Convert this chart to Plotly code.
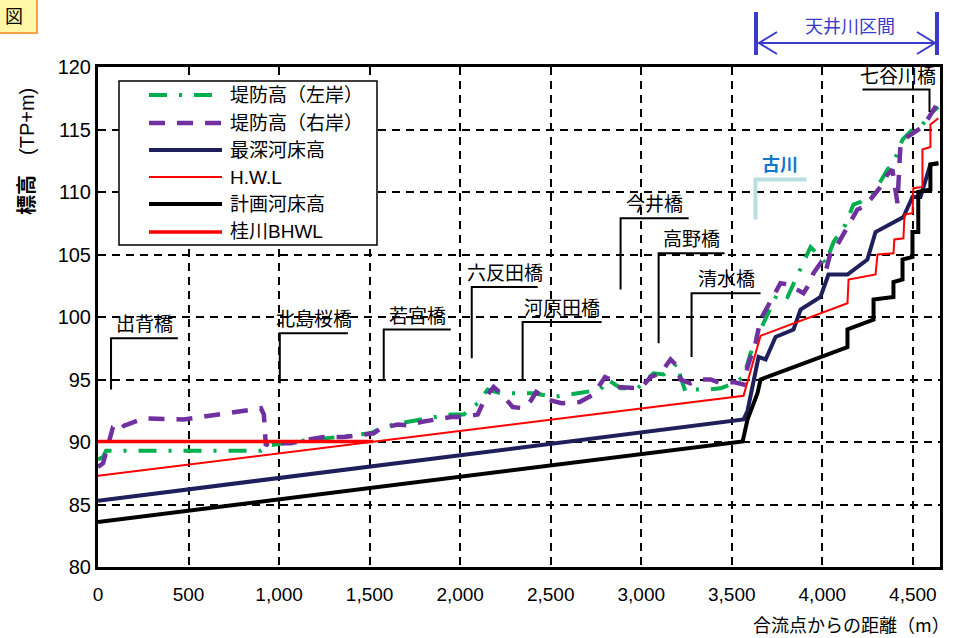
import plotly.graph_objects as go

# ---------------- data ----------------
left_x = [0, 28, 45, 900, 938, 1065, 1325, 1507, 1562, 1634, 1783, 1948, 2020, 2097, 2152,
          2224, 2406, 2517, 2649, 2776, 2815, 2886, 2980, 3068, 3124, 3201, 3217, 3245, 3289, 3366,
          3438, 3510, 3565, 3604, 3675, 3753, 3808, 3935, 3979, 4018, 4062, 4128, 4172, 4211, 4283,
          4360, 4393, 4443, 4498, 4542, 4608, 4640]
left_y = [88.6, 88.8, 89.3, 89.3, 89.7, 90.0, 90.4, 90.7, 91.1, 91.4, 91.8, 92.2, 92.2, 93.1, 94.2,
          93.9, 93.9, 93.6, 93.9, 94.2, 95.0, 94.3, 94.3, 95.5, 95.4, 96.3, 95.2, 94.0, 94.2, 94.2,
          94.3, 94.7, 95.2, 97.1, 99.5, 101.9, 101.6, 105.6, 105.0, 104.3, 106.0, 107.4, 109.0, 109.2, 109.9,
          111.8, 112.3, 114.2, 115.0, 115.2, 116.4, 116.8]

right_x = [0, 28, 83, 127, 143, 254, 475, 568, 662, 751, 817, 900, 916, 927, 938,
           1065, 1159, 1247, 1358, 1468, 1523, 1562, 1656, 1727, 1783, 1948, 2020, 2097, 2141, 2185,
           2224, 2290, 2350, 2390, 2420, 2480, 2560, 2660, 2737, 2800, 2831, 2870, 2997, 3052, 3107,
           3162, 3190, 3206, 3217, 3272, 3328, 3383, 3438, 3510, 3565, 3587, 3631, 3659, 3698, 3725,
           3769, 3813, 3863, 3896, 3935, 3951, 3990, 4018, 4045, 4084, 4139, 4194, 4227, 4266, 4321,
           4360, 4387, 4404, 4415, 4432, 4470, 4542, 4586, 4641]
right_y = [88.0, 88.3, 91.2, 91.6, 91.3, 91.9, 91.8, 92.0, 92.2, 92.4, 92.6, 92.7, 92.2, 89.7, 89.9,
           89.9, 90.2, 90.4, 90.4, 90.6, 90.7, 91.1, 91.4, 91.3, 91.6, 92.0, 92.0, 92.2, 93.6, 94.4,
           93.9, 92.8, 92.7, 93.3, 94.0, 93.4, 93.1, 93.2, 93.8, 95.2, 95.0, 94.4, 94.3, 95.2, 95.5,
           96.6, 96.2, 95.6, 95.0, 94.7, 95.0, 95.0, 94.7, 94.8, 94.6, 96.0, 97.9, 99.8, 100.8, 101.6,
           102.7, 102.6, 102.2, 101.9, 102.8, 103.5, 104.3, 103.6, 105.1, 105.8, 107.2, 108.6, 108.8, 109.4, 110.4,
           111.4, 111.8, 109.9, 109.1, 113.9, 114.4, 115.1, 115.9, 117.2]

deep_x = [0, 3565, 3587, 3648, 3687, 3742, 3841, 3880, 3990, 4034, 4139, 4249, 4294, 4448, 4498,
          4542, 4597, 4641]
deep_y = [85.3, 91.8, 92.5, 96.8, 96.6, 98.4, 99.0, 100.6, 101.6, 103.4, 103.4, 104.6, 106.8, 108.0, 109.6,
          109.6, 112.2, 112.3]

hwl_x = [0, 3565, 3659, 4139, 4145, 4294, 4305, 4393, 4398, 4448, 4454, 4498, 4503, 4553, 4553,
         4597, 4597, 4641]
hwl_y = [87.3, 93.7, 98.5, 101.1, 103.0, 103.4, 105.0, 105.1, 106.2, 106.3, 108.2, 108.3, 110.3, 110.4, 113.4,
         113.6, 115.4, 115.9]

plan_x = [0, 3560, 3587, 3642, 3659, 4139, 4139, 4283, 4283, 4393, 4393, 4443, 4443, 4498, 4498,
          4530, 4530, 4597, 4597, 4641]
plan_y = [83.6, 90.05, 91.8, 93.9, 95.0, 97.6, 99.0, 99.8, 101.4, 101.6, 102.8, 103.0, 104.6, 104.8, 106.8,
          106.8, 110.0, 110.2, 112.2, 112.3]

bhwl_x = [0, 1520]
bhwl_y = [90.05, 90.05]

series_names = ["堤防高（左岸）", "堤防高（右岸）", "最深河床高", "H.W.L", "計画河床高", "桂川BHWL"]

bridge_names = ["出背橋", "北島桜橋", "若宮橋", "六反田橋", "河原田橋", "今井橋", "高野橋", "清水橋"]
bridge_x0 = [72, 1004, 1578, 2064, 2345, 2886, 3096, 3278]
bridge_x1 = [441, 1380, 1948, 2428, 2781, 3262, 3460, 3659]
bridge_ylo = [94.2, 94.7, 95.0, 96.7, 95.0, 102.2, 97.9, 96.8]
bridge_yhi = [98.3, 98.7, 99.0, 102.4, 99.6, 107.9, 105.1, 101.9]

x_ticks = [0, 500, 1000, 1500, 2000, 2500, 3000, 3500, 4000, 4500]
y_ticks = [80, 85, 90, 95, 100, 105, 110, 115, 120]

# ---------------- styles ----------------
FONT = "Arial, 'Liberation Sans', 'Noto Sans CJK JP', sans-serif"
JFONT = "'Noto Sans CJK JP', Arial, sans-serif"
GREEN = "#00B050"
PURPLE = "#7030A0"
NAVY = "#1F1F5C"
RED = "#FF0000"

L, R, T, B = 98, 19, 67, 71
W, H = 959, 638
PW, PH = W - L - R, H - T - B


def px(xp):
    return (xp - L) / PW


def py(yp):
    return (H - B - yp) / PH


fig = go.Figure()
styles = [
    (left_x, left_y, dict(color=GREEN, width=4, dash="18px,12px,3px,12px")),
    (right_x, right_y, dict(color=PURPLE, width=4.5, dash="16px,12px")),
    (deep_x, deep_y, dict(color=NAVY, width=4)),
    (hwl_x, hwl_y, dict(color=RED, width=2)),
    (plan_x, plan_y, dict(color="black", width=4)),
    (bhwl_x, bhwl_y, dict(color=RED, width=3.5)),
]
for (xs, ys, ln), nm in zip(styles, series_names):
    fig.add_trace(go.Scatter(x=xs, y=ys, mode="lines", name=nm, line=ln, showlegend=False,
                             hoverinfo="skip"))

shapes = []
annotations = []


def ann(x, y, text, size=19, color="black", family=JFONT, xanchor="center", yanchor="middle",
        xref="paper", yref="paper", **kw):
    annotations.append(dict(x=x, y=y, xref=xref, yref=yref, text=text, showarrow=False,
                            xanchor=xanchor, yanchor=yanchor,
                            font=dict(family=family, size=size, color=color), **kw))


# bridge labels
for nm, x0, x1, ylo, yhi in zip(bridge_names, bridge_x0, bridge_x1, bridge_ylo, bridge_yhi):
    shapes.append(dict(type="path", xref="x", yref="y",
                       path=f"M{x0},{ylo} L{x0},{yhi} L{x1},{yhi}",
                       line=dict(color="black", width=2)))
    ann((x0 + x1) / 2, yhi, nm, xref="x", yref="y", yanchor="bottom")
# 七谷川橋 (line on the right side)
shapes.append(dict(type="path", xref="x", yref="y", path="M4592,116.4 L4592,118.2 L4222,118.2",
                   line=dict(color="black", width=2)))
ann(4420, 118.2, "七谷川橋", xref="x", yref="y", yanchor="bottom")
# 古川
shapes.append(dict(type="path", xref="x", yref="y", path="M3631,107.8 L3631,111.0 L3913,111.0",
                   line=dict(color="#B7DFE2", width=4)))
ann(3764, 112.3, "<b>古川</b>", size=18, color="#1577C9", xref="x", yref="y")

# 天井川区間 arrow
BL = "#3A3ACC"
shapes += [
    dict(type="line", xref="paper", yref="paper", x0=px(756), x1=px(756), y0=py(12), y1=py(55),
         line=dict(color=BL, width=4)),
    dict(type="line", xref="paper", yref="paper", x0=px(937), x1=px(937), y0=py(12), y1=py(55),
         line=dict(color=BL, width=4)),
    dict(type="line", xref="paper", yref="paper", x0=px(758), x1=px(936), y0=py(43), y1=py(43),
         line=dict(color=BL, width=2)),
    dict(type="path", xref="paper", yref="paper",
         path=f"M{px(777)},{py(32)} L{px(759)},{py(43)} L{px(777)},{py(54)}",
         line=dict(color=BL, width=2)),
    dict(type="path", xref="paper", yref="paper",
         path=f"M{px(917)},{py(32)} L{px(935)},{py(43)} L{px(917)},{py(54)}",
         line=dict(color=BL, width=2)),
]
ann(px(850), py(25), "天井川区間", size=18, color=BL)

# 図 tag box (top-left)
shapes.append(dict(type="rect", xref="paper", yref="paper", x0=px(-2), x1=px(37), y0=py(33), y1=py(-5),
                   fillcolor="#FFF7A8", line=dict(color="#F5A445", width=2), layer="above"))
ann(px(14), py(15), "図", size=18)

# legend (drawn box)
shapes.append(dict(type="rect", xref="paper", yref="paper", x0=px(119), x1=px(377), y0=py(245), y1=py(81),
                   fillcolor="white", line=dict(color="black", width=1.5), layer="above"))
leg_rows = [95, 123, 150, 177, 204, 232]
for (xs, ys, ln), nm, ry in zip(styles, series_names, leg_rows):
    shapes.append(dict(type="line", xref="paper", yref="paper", x0=px(149), x1=px(222), y0=py(ry), y1=py(ry),
                       line=ln, layer="above"))
    ann(px(228), py(ry), nm, size=19, family=FONT, xanchor="left")

# axis titles
ann(px(27), py(152), "<b>標高</b>\u3000(TP+m)", size=20, family=FONT, textangle=-90)
ann(px(952), py(624), "合流点からの距離（m）", size=18, xanchor="right")

fig.update_layout(
    width=W, height=H,
    margin=dict(l=L, r=R, t=T, b=B, pad=0),
    paper_bgcolor="white", plot_bgcolor="white",
    font=dict(family=FONT, size=18, color="black"),
    shapes=shapes, annotations=annotations,
    showlegend=False,
)
fig.update_xaxes(range=[0, 4650], tickvals=x_ticks, tickformat=",", showgrid=True, gridcolor="black",
                 gridwidth=1.5, griddash="8px,6px", showline=True, linecolor="black", linewidth=3,
                 mirror=True, zeroline=False, ticks="", tickfont=dict(size=19), ticklabelstandoff=8)
fig.update_yaxes(range=[80, 120], tickvals=y_ticks, showgrid=True, gridcolor="black",
                 gridwidth=1.5, griddash="8px,6px", showline=True, linecolor="black", linewidth=3,
                 mirror=True, zeroline=False, ticks="", tickfont=dict(size=20))

fig.write_html("out.html", config={"displayModeBar": False},
               post_script="document.body.style.margin='0px';")
